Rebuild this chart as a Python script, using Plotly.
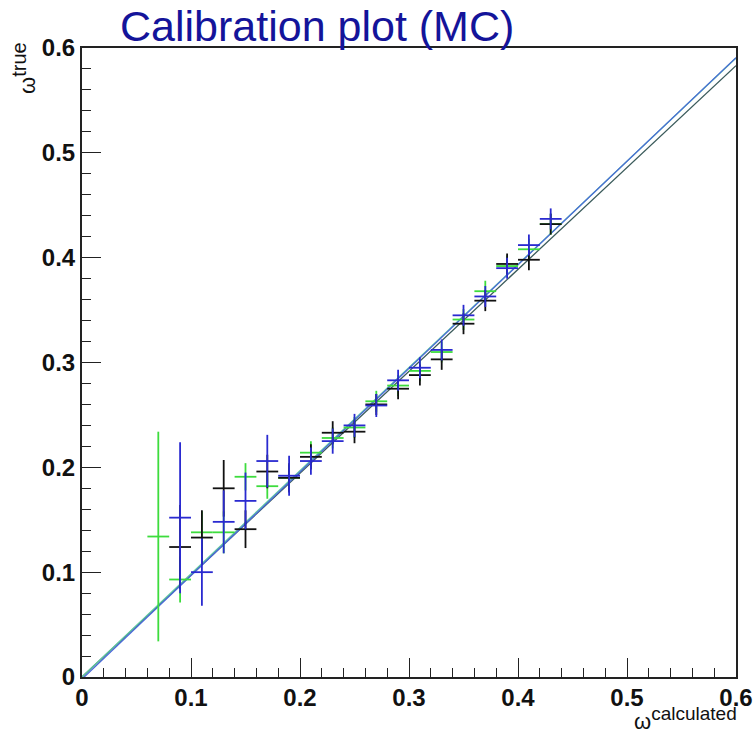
import plotly.graph_objects as go

# bin centres (omega calculated)
x_bins = [0.07, 0.09, 0.11, 0.13, 0.15, 0.17, 0.19, 0.21, 0.23, 0.25,
          0.27, 0.29, 0.31, 0.33, 0.35, 0.37, 0.39, 0.41, 0.43]
x_halfwidth = [0.01] * len(x_bins)

green_y = [0.134, 0.093, 0.138, 0.138, 0.191, 0.182, 0.190, 0.214, 0.228, 0.238,
           0.263, 0.278, 0.292, 0.310, 0.341, 0.368, 0.392, 0.408, 0.432]
green_err = [0.100, 0.022, 0.020, 0.020, 0.013, 0.012, 0.012, 0.011, 0.010, 0.010,
             0.010, 0.010, 0.010, 0.010, 0.010, 0.010, 0.010, 0.010, 0.010]

black_y = [None, 0.124, 0.133, 0.180, 0.141, 0.196, 0.190, 0.210, 0.233, 0.234,
           0.260, 0.275, 0.288, 0.303, 0.337, 0.359, 0.394, 0.398, 0.432]
black_err = [0.0, 0.040, 0.026, 0.027, 0.018, 0.016, 0.014, 0.012, 0.011, 0.011,
             0.010, 0.010, 0.010, 0.010, 0.010, 0.010, 0.010, 0.010, 0.010]

blue_y = [None, 0.152, 0.100, 0.148, 0.168, 0.206, 0.192, 0.206, 0.225, 0.240,
          0.259, 0.283, 0.295, 0.312, 0.345, 0.363, 0.390, 0.412, 0.437]
blue_err = [0.0, 0.072, 0.032, 0.030, 0.027, 0.025, 0.019, 0.013, 0.012, 0.011,
            0.011, 0.010, 0.010, 0.010, 0.010, 0.010, 0.010, 0.010, 0.010]

# linear fit parameters (slope, intercept)
fit_green = (0.984, 0.0)
fit_blue = (0.988, -0.002)
fit_black = (0.972, 0.0)
fit_x = [0.0, 0.6]

tick_vals = [0, 0.1, 0.2, 0.3, 0.4, 0.5, 0.6]
tick_text = ["0", "0.1", "0.2", "0.3", "0.4", "0.5", "0.6"]

GREEN = "#3ddc3d"
BLACK = "#111111"
BLUE = "#2a2ad0"

fig = go.Figure()

for (m, c), col in [(fit_black, "#3a5a5a"), (fit_green, "#5fc8a0"), (fit_blue, "#4a6ad8")]:
    fig.add_trace(go.Scatter(x=fit_x, y=[m * v + c for v in fit_x], mode="lines",
                             line=dict(color=col, width=1.3), showlegend=False,
                             hoverinfo="skip"))

for ys, errs, col in [(green_y, green_err, GREEN), (black_y, black_err, BLACK),
                      (blue_y, blue_err, BLUE)]:
    fig.add_trace(go.Scatter(
        x=x_bins, y=ys, mode="markers",
        marker=dict(size=1, color=col),
        error_x=dict(type="data", array=x_halfwidth, width=0, thickness=1.8, color=col),
        error_y=dict(type="data", array=errs, width=0, thickness=1.8, color=col),
        showlegend=False))

FONT = "Liberation Sans, Arial, sans-serif"
tickfont = dict(family=FONT, size=24, color="#111111", weight="bold")
axis_common = dict(range=[0, 0.6], ticks="inside", ticklen=19, tickwidth=1,
                   tickcolor="#222222", showline=True, linecolor="#222222", linewidth=2,
                   mirror=True, showgrid=False, zeroline=False, tickfont=tickfont,
                   tickvals=tick_vals, ticktext=tick_text, automargin=False,
                   minor=dict(dtick=0.02, ticks="inside", ticklen=9, tickcolor="#222222",
                              tickwidth=1, showgrid=False))

fig.update_layout(
    width=756, height=736,
    margin=dict(l=82, r=20, t=48, b=59, autoexpand=False),
    paper_bgcolor="white", plot_bgcolor="white",
    xaxis=dict(**axis_common, ticklabelstandoff=-2),
    yaxis=dict(**axis_common),
    annotations=[
        dict(text="Calibration plot (MC)", xref="paper", yref="paper", x=0.36, y=1.0,
             xanchor="center", yanchor="bottom", yshift=-4, showarrow=False,
             font=dict(family=FONT, size=43, color="#14149a")),
        dict(text="ω<sup><span style='font-size:19px'>calculated</span></sup>",
             xref="paper", yref="paper", x=1.0, y=0,
             xanchor="right", yanchor="top", yshift=-24, xshift=3, showarrow=False,
             font=dict(family=FONT, size=22, color="#111111")),
        dict(text="ω<sup><span style='font-size:20px'>true</span></sup>",
             xref="paper", yref="paper", x=0, y=1.0,
             xanchor="right", yanchor="top", xshift=-40, yshift=8, textangle=-90,
             showarrow=False,
             font=dict(family=FONT, size=22, color="#111111")),
    ],
)

fig.write_html("out.html", config={"displayModeBar": False},
               post_script="document.body.style.margin='0';")
